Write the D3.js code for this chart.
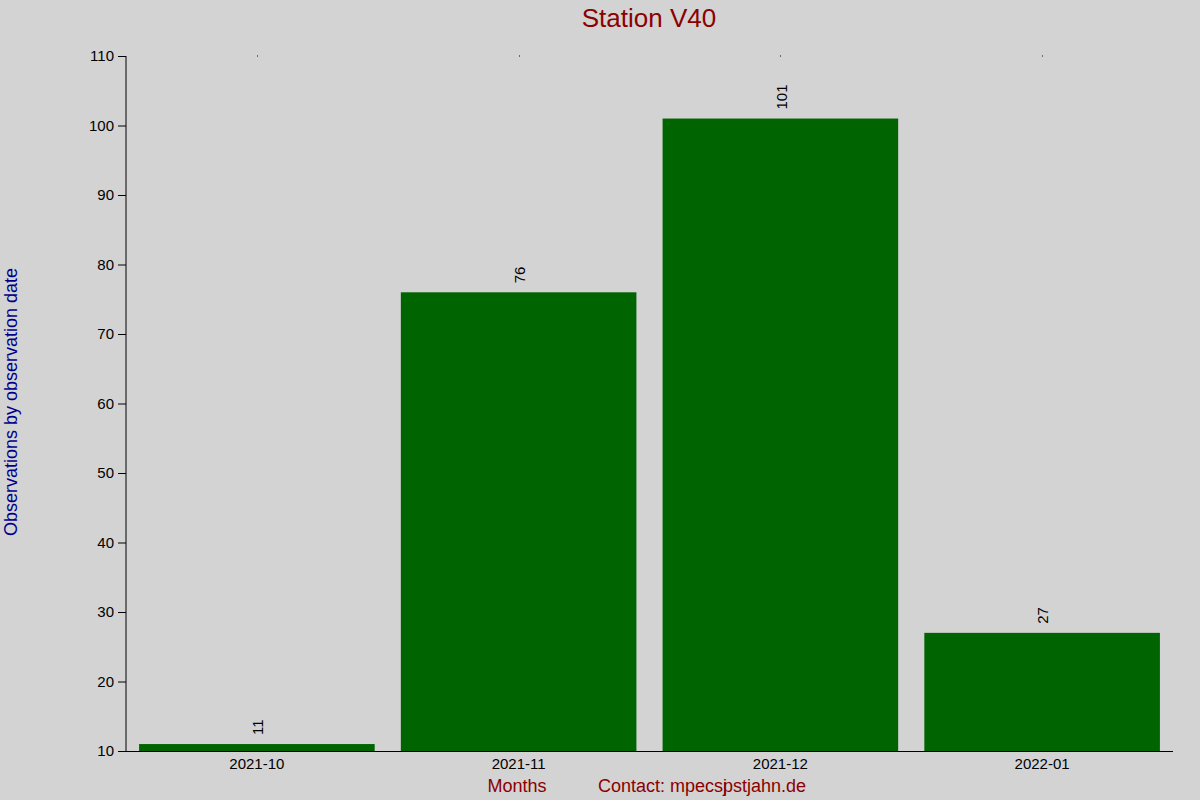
<!DOCTYPE html>
<html><head><meta charset="utf-8">
<script src="https://cdn.jsdelivr.net/npm/d3@7"></script>
<style>body{margin:0;background:#d3d3d3;} text{font-family:"Liberation Sans",Arial,sans-serif;}</style>
</head><body>
<svg id="c" width="1200" height="800"></svg>
<script>
const months = ["2021-10","2021-11","2021-12","2022-01"];
const counts = [11,76,101,27];
const yTicks = [10,20,30,40,50,60,70,80,90,100,110];
const titleText = "Station V40";
const yLabel = "Observations by observation date";
const xLabel = "Months";

const svg = d3.select("#c");
svg.append("rect").attr("width",1200).attr("height",800).attr("fill","#d3d3d3");
const L=126, R=1173, T=56, B=751;
const x = d3.scaleBand().domain(months).range([L,R]).paddingInner(0.1).paddingOuter(0.05);
const y = d3.scaleLinear().domain([10,110]).range([B,T]);

// bars
svg.selectAll("rect.bar").data(months).enter().append("rect").attr("class","bar")
  .attr("x",d=>x(d)).attr("width",x.bandwidth())
  .attr("y",(d,i)=>y(counts[i])).attr("height",(d,i)=>B-y(counts[i]))
  .attr("fill","#006400");

// value labels
svg.selectAll("text.val").data(months).enter().append("text").attr("class","val")
  .attr("transform",(d,i)=>`translate(${x(d)+x.bandwidth()/2+1},${y(counts[i])-9}) rotate(-90)`)
  .attr("dy","0.35em").attr("font-size",15).attr("fill","#000").text((d,i)=>counts[i]);

// y axis
const ya = svg.append("g").attr("transform",`translate(${L},0)`)
  .call(d3.axisLeft(y).tickValues(yTicks).tickSize(8).tickPadding(4).tickFormat(d3.format("d")));
ya.select(".domain").attr("stroke","#000").attr("d",`M0,${T}V${B}`);
ya.selectAll("text").attr("font-size",15).attr("fill","#000").attr("font-family","Liberation Sans, Arial, sans-serif");
ya.selectAll("line").attr("stroke","#000");

// x axis
const xa = svg.append("g").attr("transform",`translate(0,${B})`)
  .call(d3.axisBottom(x).tickSize(0).tickPadding(7));
xa.select(".domain").attr("stroke","#000").attr("d",`M${L},0.5H${R}`);
xa.selectAll("text").attr("font-size",15).attr("fill","#000").attr("font-family","Liberation Sans, Arial, sans-serif");

// top mirror tick dots
svg.selectAll("rect.dot").data(months).enter().append("rect").attr("class","dot")
  .attr("x",d=>Math.round(x(d)+x.bandwidth()/2)).attr("y",T-0.5).attr("width",1).attr("height",1).attr("fill","#000");

// title
svg.append("text").attr("x",649).attr("y",27).attr("text-anchor","middle")
  .attr("font-size",26).attr("fill","#8b0000").text(titleText);
// y label
svg.append("text").attr("transform","translate(17,402) rotate(-90)").attr("text-anchor","middle")
  .attr("font-size",18).attr("fill","#00008b").text(yLabel);
// x label
svg.append("text").attr("x",517).attr("y",792).attr("text-anchor","middle")
  .attr("font-size",18).attr("fill","#8b0000").text(xLabel);
const ct = svg.append("text").attr("x",598).attr("y",792).attr("font-size",18).attr("fill","#8b0000");
ct.append("tspan").text("Contact: mpecsj");
ct.append("tspan").attr("dx",-4).text("pstjahn.de");
</script>
</body></html>
